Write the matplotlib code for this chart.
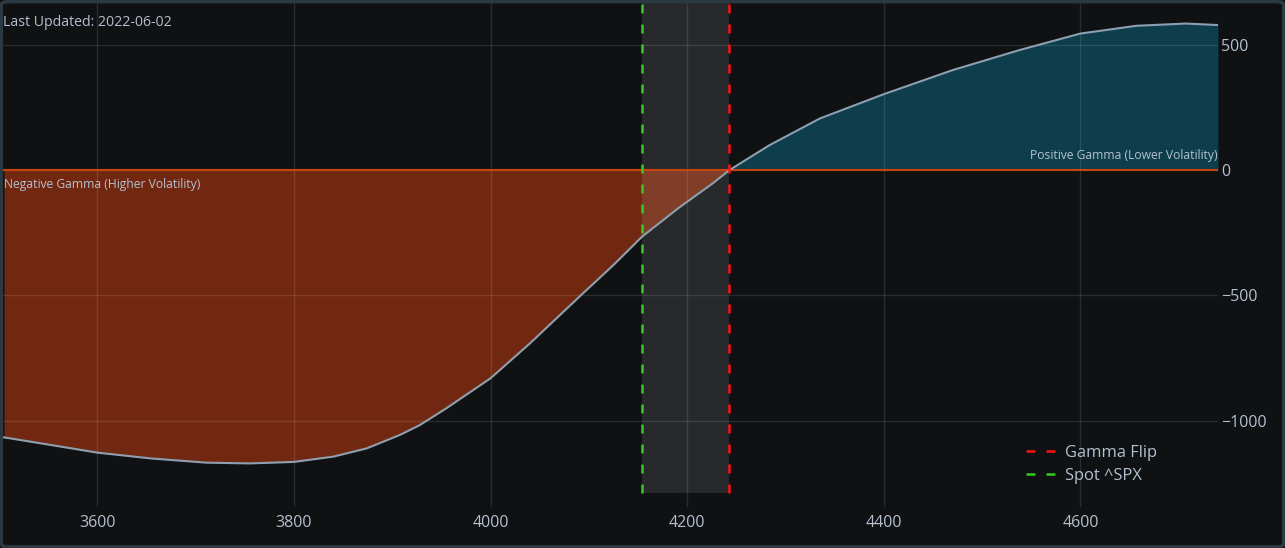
import numpy as np
import matplotlib.pyplot as plt
from matplotlib.patches import FancyBboxPatch

plt.rcParams['font.family'] = ['Open Sans', 'DejaVu Sans']

# gamma exposure profile
strikes = [3505, 3552, 3600, 3654, 3711, 3755, 3800, 3840, 3874, 3908,
           3928, 3955, 4000, 4040, 4091, 4125, 4154, 4192, 4226, 4243,
           4284, 4335, 4400, 4470, 4538, 4600, 4657, 4707, 4740]
gamma = [-1067, -1097, -1128, -1151, -1168, -1171, -1165, -1144, -1111, -1057,
         -1018, -951, -831, -692, -503, -379, -266, -149, -53, 0,
         100, 206, 303, 399, 479, 545, 576, 585, 579]
spot = 4154
flip = 4243
last_updated = '2022-06-02'
xticks = [3600, 3800, 4000, 4200, 4400, 4600]
yticks = [-1000, -500, 0, 500]

bg = '#0f1112'
txt = '#b4c0d0'

x = np.array(strikes, dtype=float)
y = np.array(gamma, dtype=float)

fig = plt.figure(figsize=(12.85, 5.48), dpi=100, facecolor=bg)
ax = fig.add_axes([3/1285, 1 - 507/548, 1215/1285, 504/548])
ax.set_facecolor(bg)

ax.fill_between(x, y, 0, where=y <= 0, interpolate=True, color='#722810', lw=0, zorder=1)
ax.fill_between(x, y, 0, where=y >= 0, interpolate=True, color='#0e3e4b', lw=0, zorder=1)
ax.axhline(0, color='#c8440e', lw=1.5, zorder=2.6)
ax.plot(x, y, color='#8d9fb0', lw=1.5, zorder=3, solid_joinstyle='round')

ylo, yhi = -1345, 667
band_bottom = -1289
frac = (band_bottom - ylo) / (yhi - ylo)
ax.axvspan(spot, flip, ymin=frac, ymax=1, color='white', alpha=0.1, lw=0, zorder=2)
ax.axvline(flip, ymin=frac, ymax=1, color='#ff1010', lw=1.8, dashes=(3.6, 4.4),
           zorder=4, label='Gamma Flip')
ax.axvline(spot, ymin=frac, ymax=1, color='#33cc22', lw=1.8, dashes=(3.6, 4.4),
           zorder=4, label='Spot ^SPX')

ax.set_xlim(3504, 4740)
ax.set_ylim(ylo, yhi)
ax.set_xticks(xticks)
ax.set_yticks(yticks)
ax.set_yticklabels(['\u22121000', '\u2212500', '0', '500'])
ax.yaxis.tick_right()
ax.tick_params(axis='both', length=0, colors=txt, labelsize=11.5)
ax.tick_params(axis='x', pad=6)
ax.tick_params(axis='y', pad=2)
ax.grid(True, color='white', alpha=0.11, lw=1)
ax.set_axisbelow(False)
for s in ax.spines.values():
    s.set_visible(False)

ax.text(0.0, 0.962, 'Last Updated: ' + last_updated, transform=ax.transAxes,
        ha='left', va='center', color=txt, fontsize=10.2)
ax.text(3505, -56, 'Negative Gamma (Higher Volatility)', ha='left', va='center',
        color=txt, fontsize=8.7)
ax.text(4740, 60, 'Positive Gamma (Lower Volatility)', ha='right', va='center',
        color=txt, fontsize=8.7)

leg = ax.legend(loc='lower right', bbox_to_anchor=(0.962, 0.016), frameon=False,
                fontsize=11.9, labelcolor=txt, handlelength=2.0, handletextpad=0.35,
                labelspacing=0.45)

fig.patches.append(FancyBboxPatch((0.001, 0.002), 0.998, 0.995,
                                  boxstyle='round,pad=0,rounding_size=0.006',
                                  transform=fig.transFigure, fill=False,
                                  edgecolor='#2b3a42', lw=2.5))

fig.savefig('out.png', dpi=100, facecolor=bg)
